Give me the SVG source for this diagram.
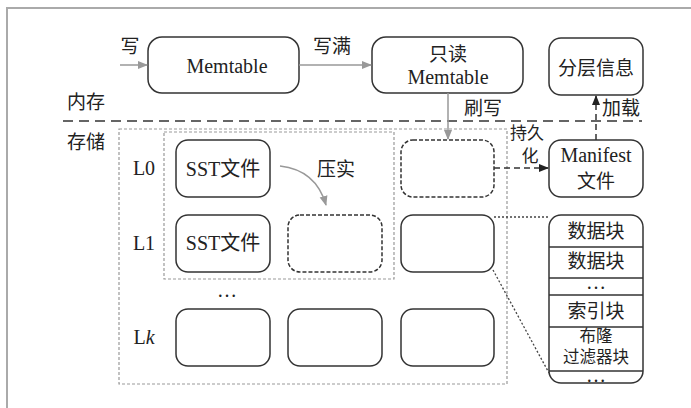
<svg xmlns="http://www.w3.org/2000/svg" width="691" height="408" viewBox="0 0 691 408">
<defs>
<style>
.box{fill:#fff;stroke:#333;stroke-width:1.5}
.dbox{fill:#fff;stroke:#333;stroke-width:1.5;stroke-dasharray:4 2}
.gdash{fill:none;stroke:#999;stroke-width:1.2;stroke-dasharray:3 2}
.t{font-family:"Liberation Serif","Noto Sans CJK SC",serif;font-size:20px;fill:#222;text-anchor:middle}
.c{font-family:"Noto Sans CJK SC",sans-serif;font-size:19px;fill:#222;text-anchor:middle}
.s{font-size:17px}
.xs{font-size:16.5px}
.garr{fill:none;stroke:#999;stroke-width:1.5}
.karr{fill:none;stroke:#333;stroke-width:1.5;stroke-dasharray:6 4}
.dot{fill:none;stroke:#444;stroke-width:1.3;stroke-dasharray:2 2}
</style>
<marker id="ga" markerWidth="10" markerHeight="10" refX="9" refY="5" orient="auto" markerUnits="userSpaceOnUse">
<path d="M0,1 L10,5 L0,9 Z" fill="#999"/>
</marker>
<marker id="ka" markerWidth="10" markerHeight="10" refX="9" refY="5" orient="auto" markerUnits="userSpaceOnUse">
<path d="M0,1 L10,5 L0,9 Z" fill="#222"/>
</marker>
</defs>
<rect width="691" height="408" fill="#fff"/>
<path d="M7,408 L7,8 L691,8" fill="none" stroke="#aaa" stroke-width="2"/>

<g id="regions">
<line x1="63" y1="121" x2="642" y2="121" stroke="#333" stroke-width="1.5" stroke-dasharray="10 6"/>
<text class="c" x="86" y="109">内存</text>
<text class="c" x="86" y="149">存储</text>
<rect class="gdash" x="119" y="129" width="388" height="255"/>
<rect class="gdash" x="164" y="132" width="230" height="147"/>
<text class="t" x="144" y="175">L0</text>
<text class="t" x="144" y="250">L1</text>
<text class="t" x="144" y="344">L<tspan font-style="italic">k</tspan></text>
<text class="t" x="227" y="297">…</text>
</g>

<g id="memtable">
<rect class="box" x="148" y="37" width="151" height="56" rx="14"/>
<text class="t" x="227" y="73">Memtable</text>
</g>
<g id="readonly-memtable">
<rect class="box" x="372" y="37" width="151" height="56" rx="14"/>
<text class="c" x="448" y="61">只读</text>
<text class="t" x="448" y="84">Memtable</text>
</g>
<g id="level-info">
<rect class="box" x="549" y="38" width="94" height="57" rx="12"/>
<text class="c" x="596" y="75">分层信息</text>
</g>
<g id="manifest">
<rect class="box" x="549" y="140" width="94" height="57" rx="12"/>
<text class="t" x="596" y="162">Manifest</text>
<text class="c" x="596" y="188">文件</text>
</g>

<g id="l0-sst">
<rect class="box" x="176" y="140" width="94" height="57" rx="12"/>
<text class="t" x="223" y="176" font-size="19">SST文件</text>
</g>
<g id="l0-new">
<rect class="dbox" x="401" y="140" width="93" height="57" rx="12"/>
</g>
<g id="l1-sst">
<rect class="box" x="176" y="215" width="94" height="57" rx="12"/>
<text class="t" x="223" y="250" font-size="19">SST文件</text>
</g>
<g id="l1-new">
<rect class="dbox" x="288" y="215" width="94" height="57" rx="12"/>
</g>
<g id="l1-file">
<rect class="box" x="401" y="215" width="93" height="57" rx="12"/>
</g>
<g id="lk-1"><rect class="box" x="176" y="309" width="94" height="57" rx="12"/></g>
<g id="lk-2"><rect class="box" x="288" y="309" width="94" height="57" rx="12"/></g>
<g id="lk-3"><rect class="box" x="401" y="309" width="93" height="57" rx="12"/></g>

<g id="sst-layout">
<rect class="box" x="549" y="215" width="94" height="168" rx="12"/>
<g stroke="#333" stroke-width="1.5">
<line x1="549" y1="247" x2="643" y2="247"/>
<line x1="549" y1="278" x2="643" y2="278"/>
<line x1="549" y1="295" x2="643" y2="295"/>
<line x1="549" y1="327" x2="643" y2="327"/>
<line x1="549" y1="371" x2="643" y2="371"/>
</g>
<text class="c" x="596" y="238">数据块</text>
<text class="c" x="596" y="268">数据块</text>
<text class="t" x="596" y="289" font-size="14">…</text>
<text class="c" x="596" y="318">索引块</text>
<text class="c xs" x="596" y="342">布隆</text>
<text class="c xs" x="596" y="363">过滤器块</text>
<text class="t" x="596" y="382" font-size="11">…</text>
</g>

<g id="connectors">
<line class="garr" x1="120" y1="65" x2="147" y2="65" marker-end="url(#ga)"/>
<text class="c" x="130" y="53">写</text>
<line class="garr" x1="299" y1="65" x2="371" y2="65" marker-end="url(#ga)"/>
<text class="c" x="332" y="53">写满</text>
<line class="garr" x1="448" y1="93" x2="448" y2="139" marker-end="url(#ga)"/>
<text class="c" x="483" y="115">刷写</text>
<path class="garr" d="M280,166 Q316,170 326,205" marker-end="url(#ga)"/>
<text class="c" x="336" y="176">压实</text>
<line class="karr" x1="494" y1="168" x2="548" y2="168" marker-end="url(#ka)"/>
<text class="c s" x="527" y="139">持久</text>
<text class="c s" x="530" y="162">化</text>
<line class="karr" x1="596" y1="140" x2="596" y2="96" marker-end="url(#ka)"/>
<text class="c" x="621" y="115">加载</text>
<line class="dot" x1="494" y1="217" x2="549" y2="217"/>
<line class="dot" x1="493" y1="270" x2="549" y2="373"/>
</g>
</svg>
